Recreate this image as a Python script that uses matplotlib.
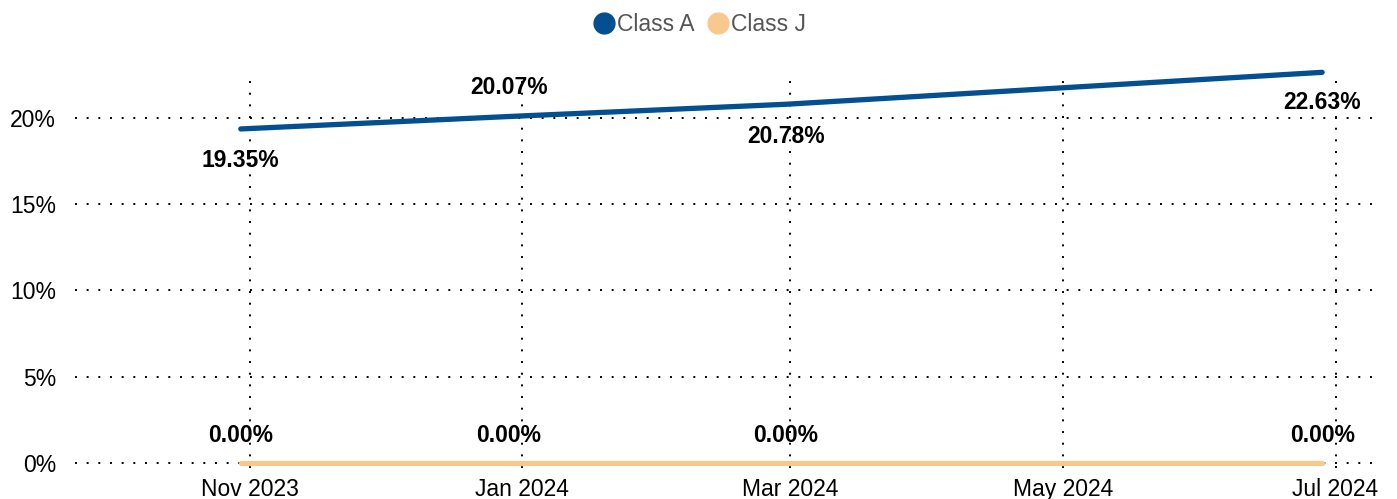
import matplotlib
matplotlib.use('Agg')
import matplotlib.pyplot as plt
import matplotlib.dates as mdates
from matplotlib.lines import Line2D
import pandas as pd

plt.rcParams['font.family'] = ['Liberation Sans', 'DejaVu Sans']

dates = pd.to_datetime(['2023-10-30', '2023-12-29', '2024-02-29', '2024-06-28'])
class_a = [19.35, 20.07, 20.78, 22.63]
class_j = [0.00, 0.00, 0.00, 0.00]
# label offsets in points (below / above the line)
a_offsets = [-23, 21, -23, -22]
j_offsets = [20, 20, 20, 20]

blue = '#044F8F'
peach = '#F8C98E'

fig = plt.figure(figsize=(13.97, 4.99), dpi=100)
ax = fig.add_axes([0.054, 0.062, 0.934, 0.792])

ax.plot(dates, class_a, color=blue, lw=3.8, solid_capstyle='round', clip_on=False, zorder=3)
ax.plot(dates, class_j, color=peach, lw=3.8, solid_capstyle='round', clip_on=False, zorder=3)

for d, v, off in zip(dates, class_a, a_offsets):
    ax.annotate(f'{v:.2f}%', (d, v), xytext=(0, off), textcoords='offset points',
                ha='center', va='center', fontsize=16.5, fontweight='bold', annotation_clip=False)
for d, v, off in zip(dates, class_j, j_offsets):
    ax.annotate(f'{v:.2f}%', (d, v), xytext=(0, off), textcoords='offset points',
                ha='center', va='center', fontsize=16.5, fontweight='bold', annotation_clip=False)

ax.set_xlim(pd.Timestamp('2023-09-23'), pd.Timestamp('2024-07-11'))
ax.set_ylim(-0.3, 22.6)
ax.set_yticks([0, 5, 10, 15, 20])
ax.set_yticklabels([f'{t}%' for t in [0, 5, 10, 15, 20]])
ax.xaxis.set_major_locator(mdates.MonthLocator(bymonth=[1, 3, 5, 7, 11]))
ax.xaxis.set_major_formatter(mdates.DateFormatter('%b %Y'))

ax.grid(True, color='black', linestyle=(0, (1, 5)), linewidth=1.4)
ax.set_axisbelow(True)
for s in ax.spines.values():
    s.set_visible(False)
ax.tick_params(length=0, labelsize=16.5, pad=7)
ax.tick_params(axis='y', pad=14)

handles = [Line2D([], [], marker='o', color='none', markerfacecolor=c, markeredgecolor=c,
                  markersize=15) for c in (blue, peach)]
fig.legend(handles, ['Class A', 'Class J'], loc='upper center', bbox_to_anchor=(0.5, 1.016),
           ncol=2, frameon=False, fontsize=16.5, labelcolor='#555555',
           handletextpad=0.0, columnspacing=0.5, handlelength=1.1)

fig.savefig('out.png', dpi=100)
